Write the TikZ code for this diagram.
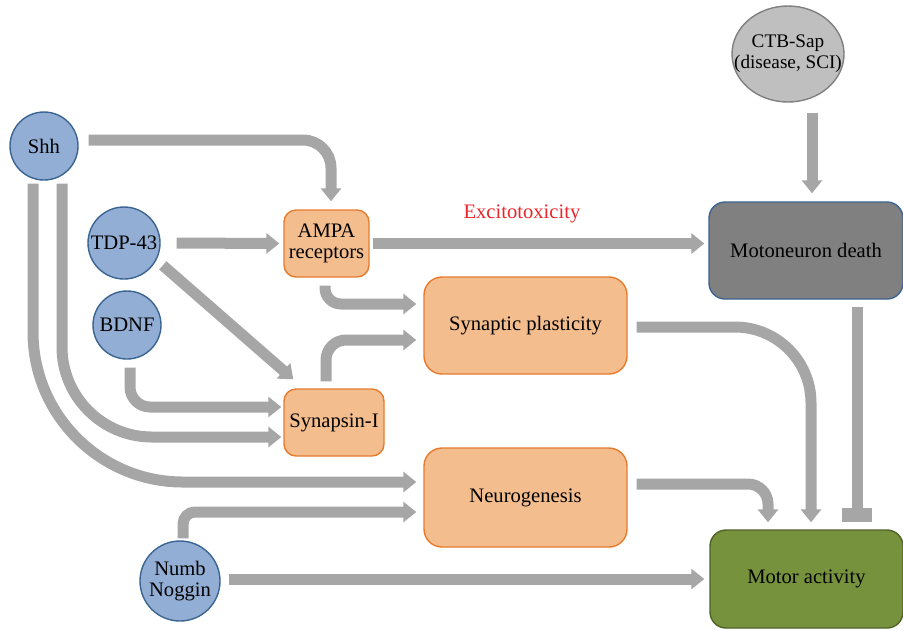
\documentclass[tikz,border=0pt]{standalone}
\usepackage{fontspec}
\setmainfont{Liberation Serif}
\usetikzlibrary{arrows.meta,shapes.geometric,calc}

\definecolor{arrowgray}{HTML}{A6A6A6}
\definecolor{agentfill}{HTML}{92AED4}
\definecolor{agentline}{HTML}{3A6491}
\definecolor{boxfill}{HTML}{F4BD8E}
\definecolor{boxline}{HTML}{E57B2E}
\definecolor{deathfill}{HTML}{808080}
\definecolor{motorfill}{HTML}{76923C}
\definecolor{motorline}{HTML}{4F6228}
\definecolor{ctbfill}{HTML}{BFBFBF}
\definecolor{excitered}{HTML}{E8262B}

\begin{document}
\begin{tikzpicture}[x=0.5pt,y=-0.5pt,
  font=\fontsize{10.3}{10.8}\selectfont,
  agent/.style={circle,draw=agentline,fill=agentfill,line width=0.7pt,inner sep=0pt,align=center},
  proc/.style={rectangle,rounded corners=6pt,draw=boxline,fill=boxfill,line width=0.7pt,inner sep=1pt,align=center},
  flow/.style={draw=arrowgray,line width=5.5pt,-{Triangle[width=10pt,length=6.5pt]}},
  block/.style={draw=arrowgray,line width=5.5pt,-{Rectangle[width=15pt,length=7pt]}}]
  \useasboundingbox (0,0) rectangle (903,629);

  \node[agent,minimum size=34pt] (shh) at (44,146) {Shh};
  \node[agent,minimum size=36pt] (tdp) at (124,243) {TDP-43};
  \node[agent,minimum size=34pt] (bdnf) at (127,325) {BDNF};
  \node[agent,minimum size=40pt] (numb) at (180,581) {Numb\\Noggin};
  \node[ellipse,draw=deathfill,fill=ctbfill,line width=0.7pt,minimum width=56pt,minimum height=48pt] (ctb) at (788,54) {};
  \node[align=center,font=\fontsize{9.6}{10.6}\selectfont] (ctbtext) at (ctb) {CTB-Sap\\(disease, SCI)};

  \node[proc,minimum width=42.5pt,minimum height=33.5pt] (ampa) at (326.5,243.5) {AMPA\\receptors};
  \node[proc,rounded corners=9pt,minimum width=101.5pt,minimum height=48.5pt] (synp) at (525.5,325.5) {Synaptic plasticity};
  \node[proc,minimum width=50pt,minimum height=33.5pt] (syn1) at (334,422.5) {Synapsin-I};
  \node[proc,rounded corners=9pt,minimum width=101.5pt,minimum height=49.5pt] (neuro) at (525.5,497.5) {Neurogenesis};
  \node[proc,rounded corners=8pt,draw=agentline,fill=deathfill,minimum width=97pt,minimum height=48.5pt] (death) at (806,250.5) {Motoneuron death};
  \node[proc,rounded corners=8pt,draw=motorline,fill=motorfill,minimum width=96.5pt,minimum height=49pt] (motor) at (806.5,579) {Motor activity};

  \draw[flow,rounded corners=14pt] ($(shh.east)+(10,-6)$) -| ($(ampa.north)+(4.5,-8)$);
  \draw[flow] ($(tdp.east)+(16,0)$) -- ($(ampa.west)+(-4,0)$);
  \draw[flow] ($(tdp.-30)+(7,4)$) -- ($(syn1.north west)+(10,-9)$);
  \draw[flow] ($(ampa.east)+(3,0)$) -- node[pos=0.45,above=4pt,text=excitered] (excite) {Excitotoxicity} ($(death.west)+(-4,-7)$);
  \draw[flow,rounded corners=8pt] ($(ampa.south)+(-1.5,8)$) |- ($(synp.west)+(-7,-21.5)$);
  \draw[flow,rounded corners=10pt] ($(syn1.north)+(-8,-7)$) |- ($(synp.west)+(-7,14.5)$);
  \draw[flow,rounded corners=10pt] ($(bdnf.south)+(3,8)$) |- ($(syn1.west)+(-2,-15.5)$);
  \draw[flow,rounded corners=45pt] ($(shh.south)+(18,3)$) |- ($(syn1.west)+(-2,14.5)$);
  \draw[flow,rounded corners=75pt] ($(shh.south)+(-11,3)$) |- ($(neuro.west)+(-7,-15.5)$);
  \draw[flow,rounded corners=6pt] ($(numb.north)+(3,-2)$) |- ($(neuro.west)+(-7,14.5)$);
  \draw[flow] ($(numb.east)+(8,-2)$) -- ($(motor.west)+(-5,0)$);
  \draw[flow,rounded corners=38pt] ($(synp.east)+(9,1.5)$) -| ($(motor.north)+(4.5,-7)$);
  \draw[flow,rounded corners=10pt] ($(neuro.east)+(9,-13.5)$) -| ($(motor.north)+(-38.5,-7)$);
  \draw[block] ($(death.south)+(51,7)$) -- ($(motor.north)+(50.5,-7)$);
  \draw[flow] ($(ctb.south)+(24,10)$) -- ($(death.north)+(6,-8)$);
\end{tikzpicture}
\end{document}
